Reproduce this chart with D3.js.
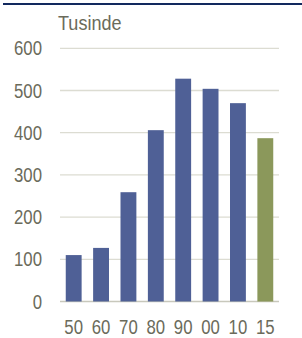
<!DOCTYPE html>
<html>
<head>
<meta charset="utf-8">
<script src="https://cdn.jsdelivr.net/npm/d3@7"></script>
<style>
  body { margin: 0; background: #fff; }
  text { font-family: "Liberation Sans", Arial, sans-serif; fill: #6b6b5b; }
</style>
</head>
<body>
<svg></svg>
<script>
let width = 302;
let height = 338;

const decades = ['50', '60', '70', '80', '90', '00', '10', '15'];
const values = [110, 127, 259, 406, 528, 504, 470, 387];
const yTicks = [0, 100, 200, 300, 400, 500, 600];

let margin = { top: 48.3, right: 23, bottom: 36.5, left: 60 };
// the chart font is condensed, squeeze the text horizontally
let squeeze = 0.86;

let svg = d3.select('svg')
            .attr('width', width)
            .attr('height', height);

// dark rule along the top
svg.append('line')
  .attr('x1', 3).attr('x2', width)
  .attr('y1', 4).attr('y2', 4)
  .attr('stroke', '#12295e')
  .attr('stroke-width', 2);

let x = d3.scaleBand()
          .domain(decades)
          .range([margin.left, width - margin.right])
          .paddingInner(0.42)
          .paddingOuter(0.21);

let y = d3.scaleLinear()
          .domain([0, 600])
          .range([height - margin.bottom, margin.top]);

// gridlines
svg.append('g')
  .selectAll('line')
  .data(yTicks)
  .enter()
  .append('line')
    .attr('x1', margin.left)
    .attr('x2', width - margin.right)
    .attr('y1', d => y(d))
    .attr('y2', d => y(d))
    .attr('stroke', d => d === 0 ? '#c8c8bc' : '#dcdcd2')
    .attr('stroke-width', 1.3);

svg.append('g')
  .selectAll('rect')
  .data(values)
  .enter()
  .append('rect')
    .attr('x', (d, i) => x(decades[i]))
    .attr('width', x.bandwidth())
    .attr('y', d => y(d))
    .attr('height', d => y(0) - y(d))
    .attr('fill', (d, i) => decades[i] === '15' ? '#8b985b' : '#4f6096');

// y tick labels
svg.append('g')
  .selectAll('text')
  .data(yTicks)
  .enter()
  .append('text')
    .attr('transform', d => `translate(42, ${y(d)}) scale(${squeeze}, 1)`)
    .attr('dy', '0.36em')
    .attr('text-anchor', 'end')
    .style('font-size', '19.5px')
    .text(d => d);

// x tick labels
svg.append('g')
  .selectAll('text')
  .data(decades)
  .enter()
  .append('text')
    .attr('transform', d => `translate(${x(d) + x.bandwidth() / 2}, 334) scale(${squeeze}, 1)`)
    .attr('text-anchor', 'middle')
    .style('font-size', '19.5px')
    .text(d => d);

svg.append('text')
  .attr('transform', `translate(58, 30) scale(${squeeze}, 1)`)
  .style('font-size', '21px')
  .text('Tusinde');
</script>
</body>
</html>
